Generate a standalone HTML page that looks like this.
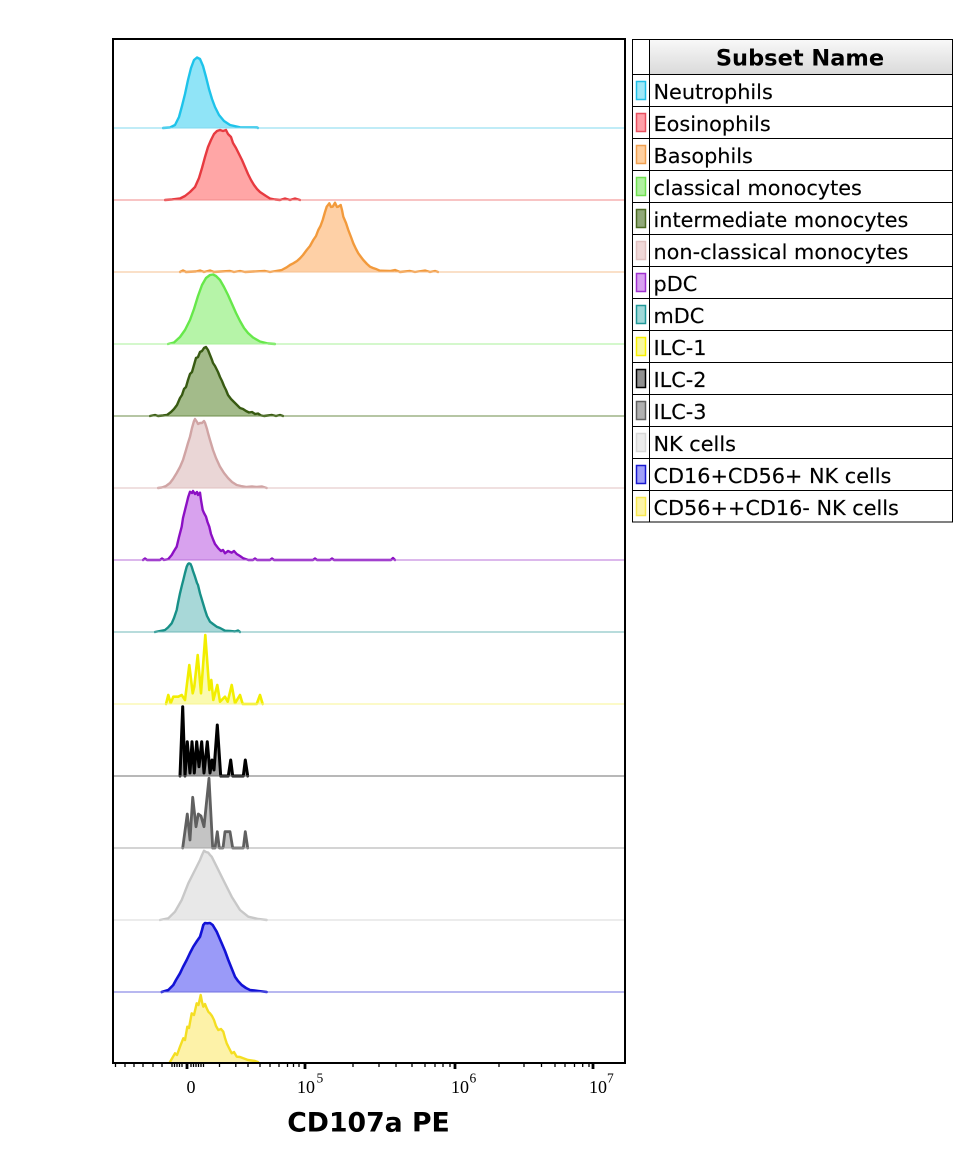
<!DOCTYPE html>
<html><head><meta charset="utf-8">
<style>
html,body{margin:0;padding:0;background:#fff;}
svg{display:block;}
</style></head>
<body>
<svg width="973" height="1153" viewBox="0 0 973 1153" xmlns="http://www.w3.org/2000/svg">
<defs>
<linearGradient id="hg" x1="0" y1="0" x2="0" y2="1">
<stop offset="0" stop-color="#f8f8f8"/><stop offset="1" stop-color="#dadada"/>
</linearGradient>
</defs>
<rect width="973" height="1153" fill="#fff"/>

<g stroke-linejoin="round" stroke-linecap="round" stroke-width="2.4">
<path fill="#90e4f7" stroke="#1ec3ea" d="M163,128 L170,127.5 175,125 179,117 182,106 185,94 188,80 191,68 194,60 197,57.5 200,59 203,66 206,77 209,89 212,99 215,107 219,115 224,121 230,125 240,127.3 257,127.5 258,128"/>
<path fill="#ffa6a6" stroke="#e73a40" d="M165,200 L172,199.5 180,198.5 185,196 190,192 195,187 199,178 202,168 205,157 208,147 211,140 214,134 217,131 220,130 223,131 226,130 228,134 231,137 233,143 236,148 239,154 242,160 245,167 248,174 251,180 254,185 257,189 260,192 263,194 266,196 270,198.5 275,199.5 280,200 285,198.5 290,200 295,198.5 300,200"/>
<path fill="#fed0a6" stroke="#f29a3c" d="M180,272 L183,270.5 186,272 196,271.5 200,270.5 204,272 210,270.5 214,272 230,271 234,272 240,271 245,272 265,271 270,272 276,271 281.7,270 286.7,267.3 290,265 293.3,263.3 297,261 300,258.3 303,255 306.7,250 310,246 313.3,240 316,236 318.3,230 320.5,226 322.7,220 325,212 326.7,206.7 329.3,203.3 331,207 332.7,206.7 335,202.7 337,207 338.3,206.7 340.7,205 342,210 343.3,216.7 346,223 348.3,230 351,237 353.3,243.3 356,249 358.3,253.3 361,257 363.3,260 367,264 370,266.7 373,268 376.7,269.3 380,270.7 390,271 395,270 400,272 410,271 415,272 425,270.5 430,272 435,271 438,272"/>
<path fill="#b6f4a8" stroke="#66e84a" d="M168,344 L174,342.5 180,337 185,330 190,320 194,309 198,296 202,285 206,278 210,275 213,274.5 216,276 220,280 224,287 228,295 232,304 236,313 240,321 244,328 248,333 253,337.5 260,341.5 268,343.5 275,344"/>
<path fill="#a3bb8a" stroke="#385a12" d="M150,416 L155,415 158,416 163,415.5 167,415 171,412 174,409 177,405 180,398 182,395 184,389 186,387 188,380 190,374 192,372 194,365 196,358 198,357 200,352 202,351 204,348 206,347 208,350 210,355 212,360 213,363 215,366 217,370 218,372 220,377 222,381 224,386 226,390 228,395 231,399 234,402 237,405 240,408 243,409 246,411 249,412.5 252,412 255,414 258,413.5 261,415.5 264,416 272,415 276,416 280,415 283,416"/>
<path fill="#ead6d6" stroke="#d0a4a4" d="M158,488 L162,487.5 166,486 170,483 173,479 176.7,473 180,467 183,460 186,450 188,443 190,436.7 192,428 194,421 195,419 197,422 198,424 200,423 202,423 204,421 205,422.7 207,429 208,433 210,440 213,450 216,458 220,466.7 224,473 228,478 232,482 236.7,485 241,486 246.7,487 252,486.5 256.7,487 262,486.5 266.7,488"/>
<path fill="#d8a2ee" stroke="#8c10c4" d="M143,560 L145,558.5 147,560 160,560 162,558.5 164,560 168,559.3 170,557 171.7,555 174,551 176.7,546.7 179,537 181.7,526.7 183,518 185,510 187,502 188.3,496.7 190,491.7 192,493 193,491 195,494 197,492 198,495 200,492.7 201,500 202.7,510 204,513 206,516.7 207.5,522 209.3,526.7 211,534 213.3,540 215,544 218.3,548.3 221,551 223,550 225,553.3 228,551 231.7,552.7 234,551 236.7,554 240,556 243.3,558.3 248.3,560 253,560 255,558.5 257,560 270,560 272,558.5 274,560 313,560 315,558.5 317,560 330,560 332,558.5 334,560 391,560 393,558 395,560"/>
<path fill="#a8d8d8" stroke="#189088" d="M155,632 L160,631 165,630 168,627.5 171.7,623.3 174,618 176.7,610 178,603 180,593.3 182,585 183.3,580 185,573 186.7,566.7 188,564 189,563.3 190.5,564 191.7,566.7 193,571 195,576.7 197,583 198,585 200,593.3 202,600 205,610 207,616 210,621.7 213,624 216.7,626.7 220,628 225,630.7 230,631 235,631.5 238,630.5 240,632"/>
<path fill="#fafab0" stroke="#f2ee00" stroke-width="2.6" d="M166,704 L168.3,695 170.7,703.3 173.3,696.7 178.3,696.7 181.7,695 185,700 189.3,665 192.7,693.3 194.3,686.7 197.7,655 201,693.3 205.3,635 209.3,690 211.3,680 213.3,700 217.3,685 220,701.7 225,696.7 227.7,701.7 231.7,685 235,703.3 240,695 242.7,704 256.7,704 260,695 262.7,704"/>
<path fill="#a0a0a0" stroke="#000" stroke-width="3" d="M180,776 L182.7,706.7 185,776 187.3,741.7 190,773 192,741.7 194.3,773 196.7,741.7 199,766.7 201.7,741.7 204,773 207.3,741.7 210,773 212,760 214,770 217.3,725 220.7,776 228.3,776 230.7,760 232.7,776 243.3,776 245.3,760 247.7,776"/>
<path fill="#c4c4c4" stroke="#606060" stroke-width="2.8" d="M182.7,848 L187.3,814 190,840 192.7,797.3 196,826.7 198.3,814 201,816 204,826.7 209,778.3 212.7,848 215,848 217.3,831.7 219.3,848 223,848 225,831.7 230,831.7 232.7,848 243.3,848 245.3,831.7 247.7,848"/>
<path fill="#e8e8e8" stroke="#c8c8c8" d="M160,920 L168.3,918.3 175,911.7 181.7,900 188.3,883.3 195,870 200,860 202,855 204,850.7 206,852 208.3,852.7 210,855 211.7,856.7 216.7,866.7 223.3,880 231.7,896.7 240,910 248.3,916.7 258.3,919 266.7,920"/>
<path fill="#9a9af8" stroke="#1212d6" stroke-width="2.6" d="M161.7,992 L168.3,990 173.3,985 176,980 180,973.3 183,967 186.7,960 190,953 193.3,946.7 197,941 200,936.7 202,930 203.3,925 205,923 207.3,923.3 210,923 212.7,925 214.5,928 216.7,931.7 219,937 221.7,943.3 225,951 228.3,960 231.5,968 235,976.7 238,981 241.7,985 246,988 250,990 258.3,991 266.7,992"/>
<path fill="#fdf2a8" stroke="#f4de22" d="M170,1062 L175,1053.3 177,1055 180,1046.7 183.3,1038.3 185,1040 187.3,1026.7 189,1028 191.7,1013.3 194,1015 196.7,1003.3 198.5,1005 200.7,995 202,1002 203.3,1006.7 205,1004 206.7,1008.3 208.5,1012 210,1013.3 212,1016 214,1020 216,1026 218.3,1030 221,1029 223.3,1031.7 225,1038 226.7,1043.3 229,1048 231.7,1053.3 234,1052 236.7,1056.7 240,1057 243.3,1058.3 248,1060 255,1061 258,1062"/>
</g>

<g stroke-width="1">
<path stroke="#80d8ef" d="M114,128H624"/>
<path stroke="#f08a8a" d="M114,200H624"/>
<path stroke="#f5c090" d="M114,272H624"/>
<path stroke="#a8f09a" d="M114,344H624"/>
<path stroke="#6e8c4a" d="M114,416H624"/>
<path stroke="#e0c0c0" d="M114,488H624"/>
<path stroke="#b870d8" d="M114,560H624"/>
<path stroke="#70b8b8" d="M114,632H624"/>
<path stroke="#f8f490" d="M114,704H624"/>
<path stroke="#707070" d="M114,776H624"/>
<path stroke="#a8a8a8" d="M114,848H624"/>
<path stroke="#dadada" d="M114,920H624"/>
<path stroke="#7070e0" d="M114,992H624"/>
</g>

<rect x="113" y="39" width="512" height="1024" fill="none" stroke="#000" stroke-width="2"/>

<path stroke="#000" stroke-width="1.3" fill="none" d="M115.5,1063v4M125,1063v4M134,1063v4M143,1063v4M153,1063v4M162,1063v4M172,1063v4M174.5,1063v4M177,1063v4M179.5,1063v4M182,1063v4M191,1063v4M193.5,1063v4M196,1063v4M198.5,1063v4M201,1063v4M203.5,1063v4M219.5,1063v4M235.8,1063v4M248,1063v4M260,1063v4M270,1063v4M279,1063v4M287.5,1063v4M293.5,1063v4M299,1063v4M353,1063v4M379,1063v4M396,1063v4M412,1063v4M425,1063v4M435,1063v4M443,1063v4M450,1063v4M499,1063v4M524,1063v4M541.5,1063v4M555,1063v4M565,1063v4M574.5,1063v4M582.7,1063v4M589,1063v4"/>
<path stroke="#000" stroke-width="2.8" fill="none" d="M187,1063v6M305,1063v6M455,1063v6M593,1063v6"/>

<g font-family="'Liberation Serif', serif" fill="#000">
<text x="191" y="1093" font-size="18" text-anchor="middle">0</text>
<text x="297" y="1093" font-size="18">10</text>
<text x="316.5" y="1082.5" font-size="13.5">5</text>
<text x="451" y="1093" font-size="18">10</text>
<text x="469.5" y="1082.5" font-size="13.5">6</text>
<text x="589" y="1093" font-size="18">10</text>
<text x="607" y="1082.5" font-size="13.5">7</text>
</g>

<text x="368.5" y="1131.5" text-anchor="middle" font-family="'DejaVu Sans','Liberation Sans',sans-serif" font-weight="bold" font-size="26.7" fill="#000">CD107a PE</text>

<rect x="649.5" y="40" width="303" height="34" fill="url(#hg)"/>
<rect x="632.5" y="39.5" width="320" height="482.5" fill="none" stroke="#000" stroke-width="1"/>
<path stroke="#000" stroke-width="1" fill="none" d="M649.5,39.5V522M632.5,74.5H952.5M632.5,106.5H952.5M632.5,138.5H952.5M632.5,170.5H952.5M632.5,202.5H952.5M632.5,234.5H952.5M632.5,266.5H952.5M632.5,298.5H952.5M632.5,330.5H952.5M632.5,362.5H952.5M632.5,394.5H952.5M632.5,426.5H952.5M632.5,458.5H952.5M632.5,490.5H952.5"/>
<text x="800" y="65.5" text-anchor="middle" font-family="'DejaVu Sans','Liberation Sans',sans-serif" font-weight="bold" font-size="22.5" fill="#000">Subset Name</text>

<g stroke-width="1.5">
<rect x="636.5" y="81.5" width="9" height="18" fill="#a0e8f8" stroke="#20c0e8"/>
<rect x="636.5" y="113.5" width="9" height="18" fill="#ffa0a8" stroke="#e85060"/>
<rect x="636.5" y="145.5" width="9" height="18" fill="#ffd0a0" stroke="#f0a050"/>
<rect x="636.5" y="177.5" width="9" height="18" fill="#b0f0a0" stroke="#70e050"/>
<rect x="636.5" y="209.5" width="9" height="18" fill="#90a878" stroke="#4a6a20"/>
<rect x="636.5" y="241.5" width="9" height="18" fill="#f0d8d8" stroke="#e0c0c0"/>
<rect x="636.5" y="273.5" width="9" height="18" fill="#d8a0f0" stroke="#a030d0"/>
<rect x="636.5" y="305.5" width="9" height="18" fill="#a0d8d8" stroke="#209898"/>
<rect x="636.5" y="337.5" width="9" height="18" fill="#f8f8a0" stroke="#f8f000"/>
<rect x="636.5" y="369.5" width="9" height="18" fill="#909090" stroke="#000000"/>
<rect x="636.5" y="401.5" width="9" height="18" fill="#b0b0b0" stroke="#606060"/>
<rect x="636.5" y="433.5" width="9" height="18" fill="#ececec" stroke="#d8d8d8"/>
<rect x="636.5" y="465.5" width="9" height="18" fill="#a0a0f8" stroke="#1818d0"/>
<rect x="636.5" y="497.5" width="9" height="18" fill="#fdf4a8" stroke="#f8e850"/>
</g>

<g font-family="'DejaVu Sans','Liberation Sans',sans-serif" font-size="20.8" fill="#000" stroke="#000" stroke-width="0.15">
<text x="653.5" y="98.8">Neutrophils</text>
<text x="653.5" y="130.8">Eosinophils</text>
<text x="653.5" y="162.8">Basophils</text>
<text x="653.5" y="194.8">classical monocytes</text>
<text x="653.5" y="226.8">intermediate monocytes</text>
<text x="653.5" y="258.8">non-classical monocytes</text>
<text x="653.5" y="290.8">pDC</text>
<text x="653.5" y="322.8">mDC</text>
<text x="653.5" y="354.8">ILC-1</text>
<text x="653.5" y="386.8">ILC-2</text>
<text x="653.5" y="418.8">ILC-3</text>
<text x="653.5" y="450.8">NK cells</text>
<text x="653.5" y="482.8">CD16+CD56+ NK cells</text>
<text x="653.5" y="514.8">CD56++CD16- NK cells</text>
</g>
</svg>
</body></html>
